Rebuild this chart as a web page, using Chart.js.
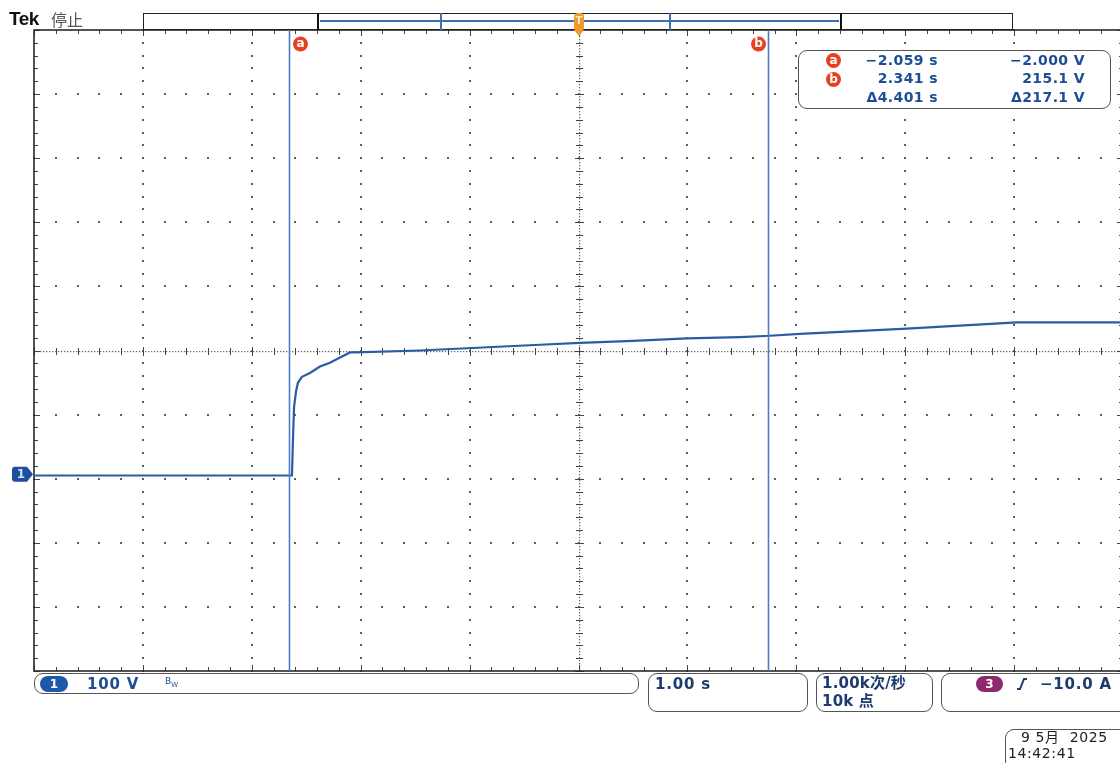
<!DOCTYPE html>
<html>
<head>
<meta charset="utf-8">
<title>Tek scope capture</title>
<script src="https://cdn.jsdelivr.net/npm/chart.js@4.4.1/dist/chart.umd.min.js"></script>
<style>
  html, body { margin: 0; padding: 0; background: #fff; overflow: hidden; width: 1120px; height: 763px; }
  body { position: relative; font-family: 'DejaVu Sans', sans-serif; }
  #wrap { position: absolute; left: 0; top: 0; width: 1130px; height: 763px; }
  .abs { position: absolute; white-space: nowrap; }
  .box { position: absolute; border: 1.5px solid #555; border-radius: 9px; box-sizing: border-box; background: #fff; }
  .ro { color: #1c4e98; font: bold 14px 'DejaVu Sans', sans-serif; line-height: 18px; text-align: right; letter-spacing: 0.4px; }
  .bt { color: #1e3a6e; font: bold 15px 'DejaVu Sans', 'Noto Sans CJK SC', sans-serif; line-height: 18px; letter-spacing: 0.8px; }
  .badge { position: absolute; border-radius: 50%; color: #fff; font: bold 12px 'DejaVu Sans', sans-serif; text-align: center; }
</style>
</head>
<body>
<div id="wrap"><canvas id="scope" width="1130" height="763"></canvas></div>

<!-- header -->
<div class="abs" style="left:9px;top:8px;font:bold 19px 'Liberation Sans',sans-serif;color:#111;letter-spacing:-0.5px;">Tek</div>
<div class="abs" style="left:51px;top:9px;font:16px 'Noto Sans CJK SC',sans-serif;color:#555;line-height:20px;">停止</div>

<!-- record view bar -->
<div class="abs" style="left:143px;top:13px;width:870px;height:17px;border:1px solid #222;box-sizing:border-box;"></div>
<div class="abs" style="left:317px;top:13px;width:525px;height:17px;border-left:2.5px solid #111;border-right:2.5px solid #111;box-sizing:border-box;"></div>
<div class="abs" style="left:320px;top:20px;width:519px;height:1.5px;background:#3d6fb3;"></div>
<div class="abs" style="left:440px;top:13px;width:1.5px;height:17px;background:#3d6fb3;"></div>
<div class="abs" style="left:669px;top:13px;width:1.5px;height:17px;background:#3d6fb3;"></div>
<div class="abs" style="left:574px;top:13px;width:10px;height:18px;background:#ee9a2c;border-radius:4px;"></div>
<div class="abs" style="left:574px;top:30px;width:0;height:0;border-left:5px solid transparent;border-right:5px solid transparent;border-top:6px solid #ee9a2c;"></div>
<div class="abs" style="left:575px;top:13px;width:8px;text-align:center;font:bold 10px 'DejaVu Sans',sans-serif;color:#fde7c4;line-height:16px;">T</div>

<!-- cursor readout -->
<div class="box" style="left:798px;top:50px;width:313px;height:59px;"></div>
<div class="badge" style="left:826px;top:53px;width:15px;height:15px;line-height:15px;background:#e5431f;">a</div>
<div class="badge" style="left:826px;top:72px;width:15px;height:15px;line-height:15px;background:#e5431f;">b</div>
<div class="abs ro" style="left:830px;top:51px;width:108px;">−2.059 s</div>
<div class="abs ro" style="left:975px;top:51px;width:110px;">−2.000 V</div>
<div class="abs ro" style="left:830px;top:69px;width:108px;">2.341 s</div>
<div class="abs ro" style="left:975px;top:69px;width:110px;">215.1 V</div>
<div class="abs ro" style="left:830px;top:88px;width:108px;">Δ4.401 s</div>
<div class="abs ro" style="left:975px;top:88px;width:110px;">Δ217.1 V</div>

<!-- bottom status bar -->
<div class="box" style="left:34px;top:673px;width:605px;height:21px;"></div>
<div class="badge" style="left:40px;top:676px;width:28px;height:16px;line-height:16px;border-radius:8px;background:#1f58a8;">1</div>
<div class="abs bt" style="left:87px;top:675px;color:#1c4e98;">100 V</div>
<div class="abs" style="left:165px;top:676px;font:9px 'DejaVu Sans',sans-serif;color:#1c4e98;">B<sub style="font-size:7px;">W</sub></div>

<div class="box" style="left:648px;top:673px;width:160px;height:39px;"></div>
<div class="abs bt" style="left:655px;top:675px;">1.00 s</div>

<div class="box" style="left:816px;top:673px;width:117px;height:39px;"></div>
<div class="abs bt" style="left:822px;top:674px;letter-spacing:0.2px;">1.00k次/秒</div>
<div class="abs bt" style="left:822px;top:692px;letter-spacing:0.2px;">10k 点</div>

<div class="box" style="left:941px;top:673px;width:200px;height:39px;"></div>
<div class="badge" style="left:976px;top:676px;width:27px;height:16px;line-height:16px;border-radius:8px;background:#8e2a6c;">3</div>
<svg class="abs" style="left:1016px;top:677px;" width="12" height="14"><path d="M1 12 L4 12 L8 2 L11 2" fill="none" stroke="#1e3a6e" stroke-width="2"/></svg>
<div class="abs bt" style="left:1040px;top:675px;">−10.0 A</div>

<div class="box" style="left:1005px;top:729px;width:130px;height:44px;"></div>
<div class="abs" style="left:1021px;top:729px;font:14px 'DejaVu Sans','Noto Sans CJK SC',sans-serif;color:#222;line-height:17px;letter-spacing:0.6px;">9 5月 &nbsp;2025</div>
<div class="abs" style="left:1008px;top:745px;font:14px 'DejaVu Sans',sans-serif;color:#222;line-height:17px;letter-spacing:0.6px;">14:42:41</div>

<script>
/* Channel 1 record: time (s) vs voltage (V) */
const timeS  = [-4.4, -2.031, -2.022, -2.012, -1.994, -1.976, -1.939, -1.866, -1.774, -1.682, -1.590, -1.498, -1.443,
                -0.856, 0.246, 0.614, 1.101, 1.596, 2.083, 2.358, 2.634, 3.616, 4.627, 5.6];
const voltsV = [-2, -2, 54, 105, 129, 143, 152, 158, 168, 174, 182, 190, 190,
                193, 202, 205, 208, 212, 214, 216, 219, 227, 237, 237];

/* Cursors a / b */
const cursorTimes  = [-2.059, 2.341];
const cursorNames  = ['a', 'b'];
const cursorBadgeDx = [11, -10];

/* Screen: 10 x 10 divisions, 1.00 s/div, 100 V/div */
const X_MIN = -4.4, X_MAX = 5.6, X_DIV = 1;
const Y_MIN = -307, Y_MAX = 693, Y_DIV = 100;

/* Tek style dotted graticule with tick-marked centre cross */
const graticule = {
  id: 'graticule',
  beforeDatasetsDraw(chart) {
    const { ctx, chartArea: a, scales: { x, y } } = chart;
    const xs = [], ys = [];
    for (let i = 0; i <= 10; i++) {
      xs.push(x.getPixelForValue(X_MIN + i * X_DIV));
      ys.push(y.getPixelForValue(Y_MAX - i * Y_DIV));
    }
    const mx = (xs[10] - xs[0]) / 50, my = (ys[10] - ys[0]) / 50;
    ctx.save();
    ctx.fillStyle = '#5e5e5e';
    // major lines as dots at each minor division
    for (let i = 1; i < 10; i++) {
      if (i === 5) continue;
      for (let j = 0; j <= 50; j++) {
        ctx.fillRect(Math.round(xs[i]) - 1, Math.round(a.top + j * my) - 1, 2, 2);
        ctx.fillRect(Math.round(a.left + j * mx) - 1, Math.round(ys[i]) - 1, 2, 2);
      }
    }
    // centre cross: fine dotted line + ticks
    const cx = Math.round(xs[5]), cy = Math.round(ys[5]);
    ctx.fillStyle = '#666';
    for (let p = a.left; p < a.right; p += 3) ctx.fillRect(Math.round(p), cy, 1.3, 1.2);
    for (let p = a.top; p < a.bottom; p += 3) ctx.fillRect(cx, Math.round(p), 1.2, 1.3);
    ctx.strokeStyle = '#444';
    ctx.lineWidth = 1;
    ctx.beginPath();
    for (let j = 0; j <= 50; j++) {
      const px = Math.round(a.left + j * mx) + 0.5, py = Math.round(a.top + j * my) + 0.5;
      const big = j % 5 === 0 ? 4 : 3;
      ctx.moveTo(px, cy - big); ctx.lineTo(px, cy + big + 1);
      ctx.moveTo(cx - big, py); ctx.lineTo(cx + big + 1, py);
      // edge ticks
      const e = j % 5 === 0 ? 6 : 4;
      ctx.moveTo(px, a.top); ctx.lineTo(px, a.top + e);
      ctx.moveTo(px, a.bottom); ctx.lineTo(px, a.bottom - e);
      ctx.moveTo(a.left, py); ctx.lineTo(a.left + e, py);
      ctx.moveTo(a.right, py); ctx.lineTo(a.right - e, py);
    }
    ctx.stroke();
    // frame
    ctx.strokeStyle = '#2a2a2a';
    ctx.lineWidth = 1.6;
    ctx.strokeRect(a.left, a.top, a.right - a.left, a.bottom - a.top);
    ctx.restore();
  }
};

/* Cursor lines, their badges and the channel 1 ground marker */
const cursors = {
  id: 'cursors',
  afterDatasetsDraw(chart) {
    const { ctx, chartArea: a, scales: { x, y } } = chart;
    ctx.save();
    cursorTimes.forEach((t, i) => {
      const px = Math.round(x.getPixelForValue(t)) + 0.5;
      ctx.strokeStyle = '#4a7cc2';
      ctx.lineWidth = 1.6;
      ctx.beginPath();
      ctx.moveTo(px, a.top); ctx.lineTo(px, a.bottom);
      ctx.stroke();
      const bx = px + cursorBadgeDx[i], by = a.top + 14;
      ctx.fillStyle = '#e5431f';
      ctx.beginPath(); ctx.arc(bx, by, 7.5, 0, Math.PI * 2); ctx.fill();
      ctx.fillStyle = '#fff';
      ctx.font = 'bold 12px "DejaVu Sans", sans-serif';
      ctx.textAlign = 'center'; ctx.textBaseline = 'middle';
      ctx.fillText(cursorNames[i], bx, by);
    });
    // ground marker "1"
    const gy = y.getPixelForValue(0);
    const l = a.left - 22, r = a.left - 1;
    ctx.fillStyle = '#1f4f9c';
    ctx.beginPath();
    ctx.moveTo(l + 3, gy - 7.5); ctx.lineTo(r - 6, gy - 7.5); ctx.lineTo(r, gy);
    ctx.lineTo(r - 6, gy + 7.5); ctx.lineTo(l + 3, gy + 7.5);
    ctx.quadraticCurveTo(l, gy + 7.5, l, gy + 4.5); ctx.lineTo(l, gy - 4.5);
    ctx.quadraticCurveTo(l, gy - 7.5, l + 3, gy - 7.5);
    ctx.fill();
    ctx.fillStyle = '#cfe0f5';
    ctx.font = 'bold 12px "DejaVu Sans", sans-serif';
    ctx.textAlign = 'center'; ctx.textBaseline = 'middle';
    ctx.fillText('1', l + 9, gy + 0.5);
    ctx.restore();
  }
};

const ctx = document.getElementById('scope');
new Chart(ctx, {
  type: 'line',
  data: {
    datasets: [{
      label: 'CH1',
      data: timeS.map((t, i) => ({ x: t, y: voltsV[i] })),
      borderColor: '#2a5ca4',
      borderWidth: 2.2,
      pointRadius: 0,
      tension: 0,
      fill: false
    }]
  },
  options: {
    responsive: false,
    animation: false,
    events: [],
    layout: { padding: { left: 34, top: 30, right: 7, bottom: 92 } },
    plugins: { legend: { display: false }, tooltip: { enabled: false } },
    scales: {
      x: { type: 'linear', min: X_MIN, max: X_MAX, display: false },
      y: { type: 'linear', min: Y_MIN, max: Y_MAX, display: false }
    }
  },
  plugins: [graticule, cursors]
});
</script>
</body>
</html>
